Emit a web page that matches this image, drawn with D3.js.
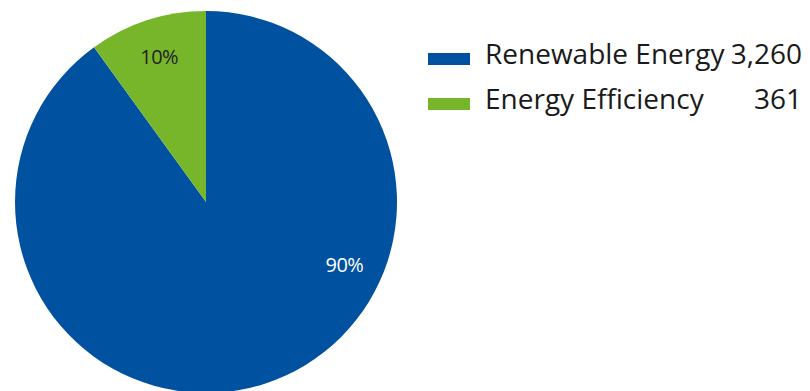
<!DOCTYPE html>
<html>
<head>
<meta charset="utf-8">
<script src="https://cdn.jsdelivr.net/npm/d3@7"></script>
<style>
  html, body { margin: 0; padding: 0; background: #fff; }
  svg { display: block; }
</style>
</head>
<body>
<svg id="chart" width="810" height="391"></svg>
<script>
const categories = ["Renewable Energy", "Energy Efficiency"];
const values = [3260, 361];
const valueLabels = ["3,260", "361"];
const colors = ["#0052a0", "#77b52b"];
const labelColors = ["#ffffff", "#222222"];

const svg = d3.select("#chart");
const cx = 206, cy = 202, r = 191;

const data = categories.map((c, i) => ({ name: c, value: values[i], valueLabel: valueLabels[i] }));
const total = d3.sum(values);

const pie = d3.pie().sort(null).value(d => d.value);
const arcs = pie(data);
const arc = d3.arc().innerRadius(0).outerRadius(r);

const g = svg.append("g").attr("transform", `translate(${cx},${cy})`);
g.selectAll("path").data(arcs).enter().append("path")
  .attr("d", arc)
  .attr("fill", (d, i) => colors[i]);

// label positions: fraction along slice where label sits
const labelFrac = [0.353, 0.5];
const labelR = 152;
const fmtPct = d3.format(".0%");
g.selectAll("text.pct").data(arcs).enter().append("text")
  .attr("class", "pct")
  .attr("x", (d, i) => {
    const a = d.startAngle + (d.endAngle - d.startAngle) * labelFrac[i];
    return labelR * Math.sin(a);
  })
  .attr("y", (d, i) => {
    const a = d.startAngle + (d.endAngle - d.startAngle) * labelFrac[i];
    return -labelR * Math.cos(a);
  })
  .attr("dy", "0.35em")
  .attr("text-anchor", "middle")
  .attr("font-family", "'Open Sans', sans-serif")
  .attr("font-size", 20)
  .attr("letter-spacing", -0.5)
  .attr("fill", (d, i) => labelColors[i])
  .text(d => fmtPct(Math.round(d.data.value / total * 100) / 100));

// legend
const legend = svg.append("g").attr("transform", "translate(428,0)");
const rowY = d3.scaleBand().domain(categories).range([36, 126]);
const rows = legend.selectAll("g.row").data(data).enter().append("g")
  .attr("transform", d => `translate(0,${rowY(d.name)})`);
rows.append("rect")
  .attr("x", 0).attr("y", 17).attr("width", 42).attr("height", 12)
  .attr("fill", (d, i) => colors[i]);
rows.append("text")
  .attr("x", 57).attr("y", 28)
  .attr("font-family", "'Open Sans', sans-serif")
  .attr("font-size", 28)
  .attr("fill", "#1a1a1a")
  .text(d => d.name);
rows.append("text")
  .attr("x", 374).attr("y", 28)
  .attr("text-anchor", "end")
  .attr("font-family", "'Open Sans', sans-serif")
  .attr("font-size", 28)
  .attr("fill", "#1a1a1a")
  .text(d => d.valueLabel);
</script>
</body>
</html>
